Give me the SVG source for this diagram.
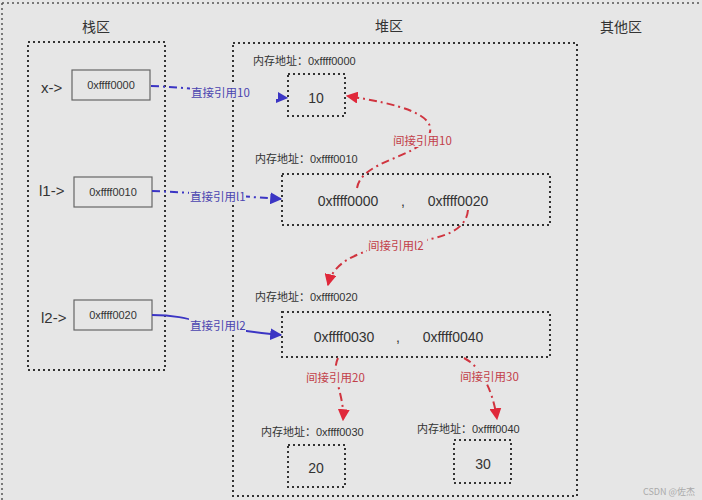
<svg xmlns="http://www.w3.org/2000/svg" width="702" height="500" viewBox="0 0 702 500">
<style>
.dot{fill:none;stroke:#333;stroke-width:2;stroke-dasharray:2 3}
.cell{fill:none;stroke:#666;stroke-width:1.2}
.t{font-family:"Liberation Sans","Noto Sans CJK SC",sans-serif;fill:#333}
.cjk{font-family:"Noto Sans CJK SC",sans-serif}
.title{font-size:14px;fill:#333}
.addr{font-size:11px}
.blue{fill:none;stroke:#3b35c4;stroke-width:2;stroke-dasharray:8 4 2 4}
.blues{fill:none;stroke:#3b35c4;stroke-width:2}
.red{fill:none;stroke:#d0343f;stroke-width:2;stroke-dasharray:8 4 2 4}
.bl{font-size:11.5px;fill:#4a44b0}
.rl{font-size:11.5px;fill:#c24049}
.bg{fill:#e6e6e6}
</style>
<defs>
<marker id="ab" viewBox="0 0 10 10" refX="9" refY="5" markerWidth="6" markerHeight="6" orient="auto" markerUnits="strokeWidth"><path d="M0,0 L10,5 L0,10 z" fill="#3b35c4"/></marker>
<marker id="ar" viewBox="0 0 10 10" refX="9" refY="5" markerWidth="6" markerHeight="6" orient="auto" markerUnits="strokeWidth"><path d="M0,0 L10,5 L0,10 z" fill="#e0283a"/></marker>
</defs>
<rect width="702" height="500" fill="#e6e6e6"/>
<path d="M2,3 H702 M2,3 V500" fill="none" stroke="#555" stroke-width="1.5" stroke-dasharray="2 3"/>
<text class="t cjk title" x="96" y="32" text-anchor="middle">栈区</text>
<text class="t cjk title" x="389" y="31" text-anchor="middle">堆区</text>
<text class="t cjk title" x="621" y="32" text-anchor="middle">其他区</text>

<g id="stack"><rect class="dot" x="28" y="42" width="137" height="328"/></g>
<g id="heap"><rect class="dot" x="233" y="43" width="344" height="453"/></g>

<g id="x"><text class="t" x="41" y="93" font-size="15">x-&gt;</text><rect class="cell" x="72" y="70" width="78" height="30"/><text class="t" x="111" y="89" font-size="11" text-anchor="middle">0xffff0000</text></g>
<g id="l1"><text class="t" x="39" y="196" font-size="15">l1-&gt;</text><rect class="cell" x="74" y="177" width="78" height="30"/><text class="t" x="113" y="196" font-size="11" text-anchor="middle">0xffff0010</text></g>
<g id="l2"><text class="t" x="41" y="323" font-size="15">l2-&gt;</text><rect class="cell" x="74" y="300" width="78" height="30"/><text class="t" x="113" y="319" font-size="11" text-anchor="middle">0xffff0020</text></g>

<g id="h0"><text class="t cjk addr" x="253" y="65">内存地址：<tspan font-family="Liberation Sans">0xffff0000</tspan></text><rect class="dot" x="288" y="74" width="57" height="42"/><text class="t" x="316" y="103" font-size="14" text-anchor="middle">10</text></g>
<g id="h1"><text class="t cjk addr" x="255" y="163">内存地址：<tspan font-family="Liberation Sans">0xffff0010</tspan></text><rect class="dot" x="282" y="174" width="268" height="51"/><text class="t" x="348" y="206" font-size="14" text-anchor="middle">0xffff0000</text><text class="t" x="403" y="206" font-size="14" text-anchor="middle">,</text><text class="t" x="458" y="206" font-size="14" text-anchor="middle">0xffff0020</text></g>
<g id="h2"><text class="t cjk addr" x="255" y="301">内存地址：<tspan font-family="Liberation Sans">0xffff0020</tspan></text><rect class="dot" x="282" y="312" width="268" height="45"/><text class="t" x="344" y="342" font-size="14" text-anchor="middle">0xffff0030</text><text class="t" x="398" y="342" font-size="14" text-anchor="middle">,</text><text class="t" x="453" y="342" font-size="14" text-anchor="middle">0xffff0040</text></g>
<g id="h3"><text class="t cjk addr" x="261" y="436">内存地址：<tspan font-family="Liberation Sans">0xffff0030</tspan></text><rect class="dot" x="288" y="445" width="57" height="42"/><text class="t" x="316" y="473" font-size="14" text-anchor="middle">20</text></g>
<g id="h4"><text class="t cjk addr" x="417" y="433">内存地址：<tspan font-family="Liberation Sans">0xffff0040</tspan></text><rect class="dot" x="454" y="440" width="57" height="43"/><text class="t" x="483" y="469" font-size="14" text-anchor="middle">30</text></g>

<g id="connectors">
<path class="blue" d="M151,86 C200,88 250,95 287,98" marker-end="url(#ab)"/>
<rect class="bg" x="190" y="85" width="88" height="14"/>
<text class="t cjk bl" x="191" y="97">直接引用10</text>
<path class="blue" d="M152,191 C200,193 250,197 281,199" marker-end="url(#ab)"/>
<rect class="bg" x="189" y="189" width="57" height="14"/>
<text class="t cjk bl" x="190" y="201">直接引用l1</text>
<path class="blues" d="M152,315 C190,315 200,325 240,330 C260,333 268,334 281,335" marker-end="url(#ab)"/>
<rect class="bg" x="189" y="318" width="57" height="14"/>
<text class="t cjk bl" x="190" y="330">直接引用l2</text>

<path class="red" d="M357,188 C362,160 418,158 429,135 C438,115 400,104 347,96" marker-end="url(#ar)"/>
<rect class="bg" x="392" y="133" width="62" height="14"/>
<text class="t cjk rl" x="393" y="145">间接引用10</text>
<path class="red" d="M468,210 C465,245 400,240 370,250 C345,258 332,268 328,285" marker-end="url(#ar)"/>
<rect class="bg" x="367" y="238" width="60" height="14"/>
<text class="t cjk rl" x="368" y="250">间接引用l2</text>
<path class="red" d="M338,358 C330,375 345,395 343,420" marker-end="url(#ar)"/>
<rect class="bg" x="305" y="370" width="64" height="14"/>
<text class="t cjk rl" x="306" y="382">间接引用20</text>
<path class="red" d="M464,358 C478,365 492,385 497,419" marker-end="url(#ar)"/>
<rect class="bg" x="459" y="369" width="64" height="14"/>
<text class="t cjk rl" x="460" y="381">间接引用30</text>
</g>
<text class="t cjk" x="695" y="495" font-size="9" style="fill:#aaa" text-anchor="end">CSDN @佐杰</text>
</svg>
